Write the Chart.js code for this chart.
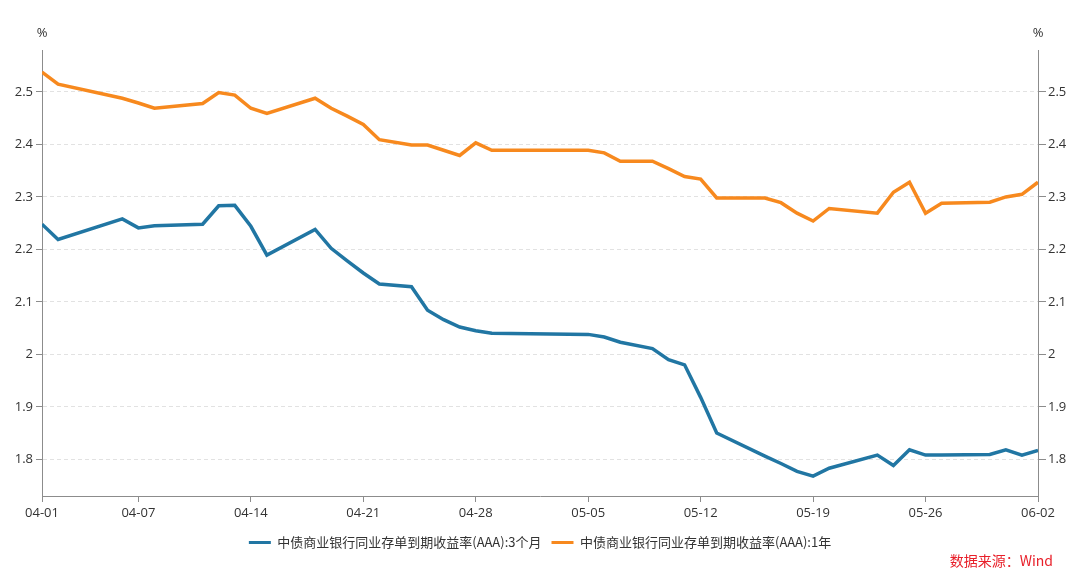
<!DOCTYPE html>
<html>
<head>
<meta charset="utf-8">
<script src="https://cdn.jsdelivr.net/npm/chart.js@4"></script>
<style>
  html, body { margin: 0; padding: 0; background: #fff; }
  #wrap { width: 1080px; height: 578px; position: relative; }
</style>
</head>
<body>
<div id="wrap"><canvas id="ncdChart" width="1080" height="578"></canvas></div>
<script>
// trading days (2022), 04-01 .. 06-02
const dates = ['04-01','04-02','04-06','04-07','04-08','04-11','04-12','04-13','04-14','04-15',
  '04-18','04-19','04-20','04-21','04-22','04-24','04-25','04-26','04-27','04-28','04-29',
  '05-05','05-06','05-07','05-09','05-10','05-11','05-12','05-13','05-16','05-17','05-18',
  '05-19','05-20','05-23','05-24','05-25','05-26','05-27','05-30','05-31','06-01','06-02'];

// 中债商业银行同业存单到期收益率(AAA):3个月
const yield3m = [2.248, 2.219, 2.258, 2.241, 2.245, 2.248, 2.283, 2.284, 2.244, 2.189,
  2.238, 2.202, 2.178, 2.155, 2.134, 2.129, 2.084, 2.066, 2.052, 2.045, 2.040,
  2.038, 2.033, 2.023, 2.011, 1.990, 1.980, 1.918, 1.850, 1.806, 1.792, 1.777,
  1.768, 1.783, 1.808, 1.788, 1.818, 1.808, 1.808, 1.809, 1.818, 1.808, 1.817];

// 中债商业银行同业存单到期收益率(AAA):1年
const yield1y = [2.538, 2.515, 2.488, 2.479, 2.469, 2.478, 2.499, 2.494, 2.469, 2.459,
  2.488, 2.469, 2.454, 2.438, 2.409, 2.399, 2.399, 2.389, 2.379, 2.403, 2.389,
  2.389, 2.384, 2.368, 2.368, 2.354, 2.339, 2.334, 2.298, 2.298, 2.289, 2.269,
  2.254, 2.278, 2.269, 2.309, 2.328, 2.269, 2.288, 2.290, 2.300, 2.305, 2.328];

const xTickLabels = ['04-01','04-07','04-14','04-21','04-28','05-05','05-12','05-19','05-26','06-02'];
const yTicks = [1.8, 1.9, 2.0, 2.1, 2.2, 2.3, 2.4, 2.5];

const seriesNames = ['中债商业银行同业存单到期收益率(AAA):3个月', '中债商业银行同业存单到期收益率(AAA):1年'];

// day offset from 04-01 so the x axis keeps calendar spacing
function dayOf(md) {
  const [m, d] = md.split('-').map(Number);
  return (Date.UTC(2022, m - 1, d) - Date.UTC(2022, 3, 1)) / 86400000;
}
function mdOf(day) {
  const t = new Date(Date.UTC(2022, 3, 1) + day * 86400000);
  return String(t.getUTCMonth() + 1).padStart(2, '0') + '-' + String(t.getUTCDate()).padStart(2, '0');
}

const FONT = "'Noto Sans CJK SC', 'Noto Sans', sans-serif";
const NUMFONT = "'Open Sans', 'Noto Sans', sans-serif";
const TEXT = '#333333';
const AXIS = '#8c8c8c';

const extras = {
  id: 'extras',
  afterDraw(chart) {
    const { ctx, chartArea } = chart;
    ctx.save();
    ctx.font = '13px ' + NUMFONT;
    ctx.fillStyle = TEXT;
    ctx.textAlign = 'center';
    ctx.textBaseline = 'middle';
    ctx.fillText('%', chartArea.left, 33);
    ctx.fillText('%', chartArea.right, 33);
    ctx.font = '14px ' + FONT;
    ctx.fillStyle = '#e8202a';
    ctx.textAlign = 'right';
    ctx.fillText('数据来源：Wind', 1053, 561);
    ctx.restore();
  }
};

const yCommon = {
  type: 'linear',
  min: 1.73,
  max: 2.58,
  afterBuildTicks: axis => { axis.ticks = yTicks.map(v => ({ value: v })); },
  ticks: {
    color: TEXT,
    font: { size: 13, family: NUMFONT },
    callback: v => String(Number(v.toFixed(2)))
  },
  border: { display: true, color: AXIS, width: 1 }
};

new Chart(document.getElementById('ncdChart'), {
  type: 'line',
  data: {
    datasets: [{
      label: seriesNames[0],
      data: dates.map((d, i) => ({ x: dayOf(d), y: yield3m[i] })),
      borderColor: '#2176a3',
      backgroundColor: '#2176a3',
      borderWidth: 3.5,
      pointRadius: 0,
      tension: 0,
      yAxisID: 'y'
    }, {
      label: seriesNames[1],
      data: dates.map((d, i) => ({ x: dayOf(d), y: yield1y[i] })),
      borderColor: '#f7891e',
      backgroundColor: '#f7891e',
      borderWidth: 3.5,
      pointRadius: 0,
      tension: 0,
      yAxisID: 'y'
    }]
  },
  options: {
    responsive: false,
    animation: false,
    layout: { padding: { top: 50, bottom: 19, left: 0, right: 0 } },
    scales: {
      x: {
        type: 'linear',
        min: 0,
        max: 62,
        afterBuildTicks: axis => { axis.ticks = xTickLabels.map(l => ({ value: dayOf(l) })); },
        afterFit: s => { s.height = 30; },
        ticks: {
          color: TEXT,
          font: { size: 13, family: NUMFONT },
          autoSkip: false,
          maxRotation: 0,
          padding: 3,
          callback: v => mdOf(v)
        },
        grid: { drawOnChartArea: false, tickLength: 6, tickColor: AXIS },
        border: { display: true, color: AXIS, width: 1 }
      },
      y: Object.assign({}, yCommon, {
        position: 'left',
        afterFit: s => { s.width = 42; },
        grid: { color: '#e2e2e2', lineWidth: 1, tickLength: 6, tickColor: AXIS },
        border: { display: true, color: AXIS, width: 1, dash: [4, 3] }
      }),
      y2: Object.assign({}, yCommon, {
        position: 'right',
        afterFit: s => { s.width = 42; },
        ticks: Object.assign({}, yCommon.ticks, { padding: 2 }),
        grid: { drawOnChartArea: false, tickLength: 8, tickColor: AXIS }
      })
    },
    plugins: {
      legend: {
        position: 'bottom',
        labels: {
          color: TEXT,
          font: { size: 13, family: FONT },
          boxWidth: 22,
          boxHeight: 3,
          padding: 10,
          generateLabels: chart => chart.data.datasets.map((ds, i) => ({
            text: ds.label,
            fillStyle: ds.borderColor,
            strokeStyle: ds.borderColor,
            lineWidth: 0,
            fontColor: TEXT,
            hidden: false,
            datasetIndex: i
          }))
        }
      },
      tooltip: { enabled: false }
    }
  },
  plugins: [extras]
});
</script>
</body>
</html>
